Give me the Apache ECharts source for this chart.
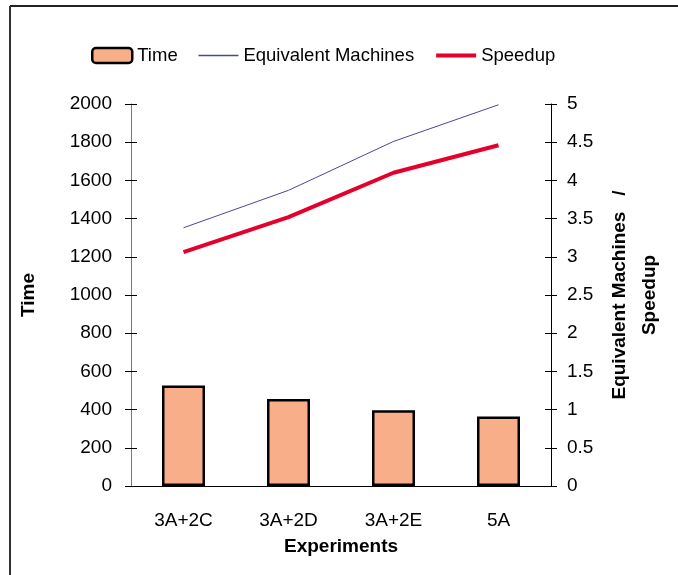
<!DOCTYPE html>
<html>
<head>
<meta charset="utf-8">
<script src="https://cdn.jsdelivr.net/npm/echarts@6/dist/echarts.min.js"></script>
<style>
html,body{margin:0;padding:0;background:#fff;}
#chart{width:678px;height:575px;}
</style>
</head>
<body>
<div id="chart"></div>
<script>
var categories = ['3A+2C', '3A+2D', '3A+2E', '5A'];
var timeValues = [526, 456, 397, 364];
var equivalentMachines = [3.38, 3.87, 4.51, 4.99];
var speedup = [3.06, 3.52, 4.10, 4.46];

var FONT = '"Liberation Sans", Arial, sans-serif';
var chart = echarts.init(document.getElementById('chart'));

var leftAxisBase = { type: 'value', min: 0, max: 2000, interval: 200 };
var rightAxisBase = { type: 'value', min: 0, max: 5, interval: 0.5 };

var option = {
  backgroundColor: '#fff',
  animation: false,
  textStyle: { fontFamily: FONT },
  legend: {
    left: 91, top: 46, padding: 0,
    itemWidth: 40, itemHeight: 15, itemGap: 20,
    textStyle: { fontFamily: FONT, fontSize: 18.5, color: '#000' },
    data: [
      { name: 'Time', itemStyle: { borderColor: '#000', borderWidth: 2.5 } },
      { name: 'Equivalent Machines', itemStyle: { opacity: 0 }, lineStyle: { width: 1.5, color: '#4a479a' } },
      { name: 'Speedup', itemStyle: { opacity: 0 }, lineStyle: { width: 4, color: '#e4002b' } }
    ]
  },
  grid: { left: 131, right: 127, top: 104, bottom: 89, containLabel: false },
  xAxis: {
    type: 'category', data: categories,
    axisLine: { lineStyle: { color: '#000', width: 1 } },
    axisTick: { show: false },
    axisLabel: { color: '#000', fontSize: 19, margin: 25, fontFamily: FONT },
    name: 'Experiments', nameLocation: 'middle', nameGap: 51,
    nameTextStyle: { color: '#000', fontSize: 19, fontWeight: 'bold', fontFamily: FONT },
    splitLine: { show: false }
  },
  yAxis: [
    Object.assign({}, leftAxisBase, {
      position: 'left',
      axisLine: { show: true, lineStyle: { color: '#777', width: 1 } },
      axisTick: { show: true, length: 6, lineStyle: { color: '#000' } },
      axisLabel: { color: '#000', fontSize: 19, margin: 19, fontFamily: FONT,
        formatter: function (v) { return String(v); } },
      splitLine: { show: false },
      name: 'Time', nameLocation: 'middle', nameGap: 93, nameRotate: 90,
      nameTextStyle: { color: '#000', fontSize: 19, fontWeight: 'bold', fontFamily: FONT }
    }),
    Object.assign({}, rightAxisBase, {
      position: 'right',
      axisLine: { show: true, lineStyle: { color: '#000', width: 1 } },
      axisTick: { show: true, length: 6, lineStyle: { color: '#000' } },
      axisLabel: { color: '#000', fontSize: 19, margin: 16, fontFamily: FONT,
        formatter: function (v) { return String(v); } },
      splitLine: { show: false },
      name: 'Equivalent Machines   /\nSpeedup', nameLocation: 'middle', nameGap: 48, nameRotate: 90,
      nameTextStyle: { color: '#000', fontSize: 19, fontWeight: 'bold', fontFamily: FONT, lineHeight: 30, align: 'center' }
    }),
    Object.assign({}, leftAxisBase, {
      position: 'left',
      axisLine: { show: false },
      axisTick: { show: true, inside: true, length: 6, lineStyle: { color: '#000' } },
      axisLabel: { show: false },
      splitLine: { show: false }
    }),
    Object.assign({}, rightAxisBase, {
      position: 'right',
      axisLine: { show: false },
      axisTick: { show: true, inside: true, length: 6, lineStyle: { color: '#000' } },
      axisLabel: { show: false },
      splitLine: { show: false }
    })
  ],
  series: [
    {
      name: 'Time', type: 'bar', yAxisIndex: 0, data: timeValues,
      barWidth: 43,
      itemStyle: { color: '#F8AE88', borderColor: '#000', borderWidth: 2.5 }
    },
    {
      name: 'Equivalent Machines', type: 'line', yAxisIndex: 1, data: equivalentMachines,
      symbol: 'none',
      lineStyle: { color: '#4a479a', width: 1 },
      itemStyle: { color: '#4a479a' }
    },
    {
      name: 'Speedup', type: 'line', yAxisIndex: 1, data: speedup,
      symbol: 'none',
      lineStyle: { color: '#e4002b', width: 4 },
      itemStyle: { color: '#e4002b' }
    }
  ],
  graphic: [
    { type: 'line', shape: { x1: 10, y1: 6, x2: 678, y2: 6 }, style: { stroke: '#222', lineWidth: 2 } },
    { type: 'line', shape: { x1: 10, y1: 6, x2: 10, y2: 575 }, style: { stroke: '#333', lineWidth: 2 } }
  ]
};
chart.setOption(option);
</script>
</body>
</html>
